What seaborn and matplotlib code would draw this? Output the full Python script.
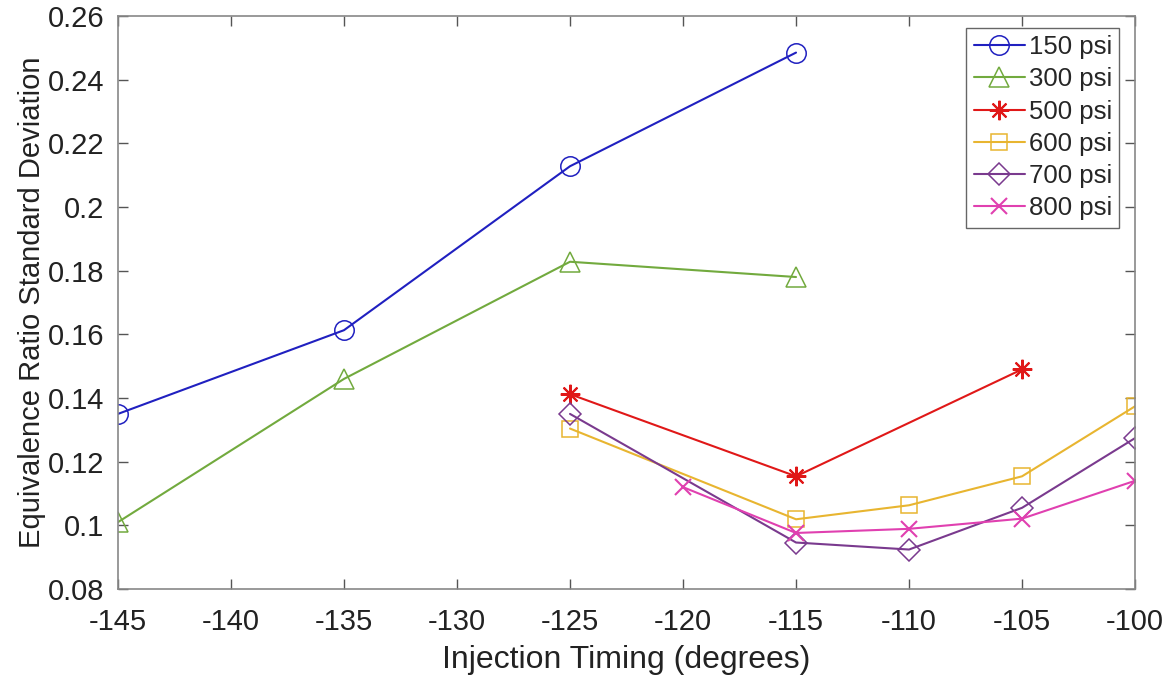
import matplotlib
matplotlib.use("Agg")
import matplotlib.pyplot as plt
import seaborn as sns
import pandas as pd

sns.set_style("white")
plt.rcParams['font.family'] = ['Liberation Sans', 'DejaVu Sans']

# Data
x_150 = [-145, -135, -125, -115]
y_150 = [0.135, 0.1613, 0.2128, 0.2485]
x_300 = [-145, -135, -125, -115]
y_300 = [0.101, 0.146, 0.1828, 0.178]
x_500 = [-125, -115, -105]
y_500 = [0.1412, 0.1154, 0.149]
x_600 = [-125, -115, -110, -105, -100]
y_600 = [0.1304, 0.1019, 0.1063, 0.1154, 0.1374]
x_700 = [-125, -115, -110, -105, -100]
y_700 = [0.135, 0.0946, 0.0924, 0.1055, 0.1274]
x_800 = [-120, -115, -110, -105, -100]
y_800 = [0.112, 0.0976, 0.0989, 0.1021, 0.114]

labels = ['150 psi', '300 psi', '500 psi', '600 psi', '700 psi', '800 psi']
xticks = [-145, -140, -135, -130, -125, -120, -115, -110, -105, -100]
yticks = [0.08, 0.1, 0.12, 0.14, 0.16, 0.18, 0.2, 0.22, 0.24, 0.26]
ytick_labels = ['0.08', '0.1', '0.12', '0.14', '0.16', '0.18', '0.2', '0.22', '0.24', '0.26']

series = [
    (x_150, y_150, labels[0], '#2020c0', 'o', 14, 1.1),
    (x_300, y_300, labels[1], '#72aa3e', '^', 15, 1.1),
    (x_500, y_500, labels[2], '#e01818', (8, 2, 0), 14, 1.5),
    (x_600, y_600, labels[3], '#e8b530', 's', 12, 1.1),
    (x_700, y_700, labels[4], '#7a3a8e', 'D', 11, 1.1),
    (x_800, y_800, labels[5], '#e040b0', 'x', 11, 1.5),
]

fig = plt.figure(figsize=(11.75, 6.86), dpi=100)
ax = fig.add_axes([0.1004, 0.1414, 0.8656, 0.8353])

for xs, ys, lab, col, mk, ms, mew in series:
    df = pd.DataFrame({'x': xs, 'y': ys})
    sns.lineplot(data=df, x='x', y='y', ax=ax, color=col, marker=mk,
                 markersize=ms, markerfacecolor='none', markeredgecolor=col,
                 markeredgewidth=mew, linewidth=1.5, label=lab)

ax.set_xlim(-145, -100)
ax.set_ylim(0.08, 0.26)
ax.set_xticks(xticks)
ax.set_xticklabels([str(t) for t in xticks])
ax.set_yticks(yticks)
ax.set_yticklabels(ytick_labels)
ax.tick_params(direction='in', length=7, width=1, color='#555555',
               labelsize=21, labelcolor='#222222', top=True, right=True,
               bottom=True, left=True)
ax.tick_params(axis='x', pad=14)
ax.tick_params(axis='y', pad=10)
for s in ax.spines.values():
    s.set_color('#888888')
    s.set_linewidth(1.2)
    s.set_visible(True)

ax.set_xlabel('Injection Timing (degrees)', fontsize=23, color='#222222', labelpad=6)
ax.set_ylabel('Equivalence Ratio Standard Deviation', fontsize=21, color='#222222', labelpad=1)

leg = ax.legend(loc='upper right', bbox_to_anchor=(0.9845, 0.979), fontsize=18.5,
                frameon=True, fancybox=False, framealpha=1, edgecolor='#666666',
                handlelength=2.0, handletextpad=0.15, borderpad=0.28,
                labelspacing=0.32, borderaxespad=0.0)
leg.get_frame().set_linewidth(1.0)

fig.savefig('out.png', dpi=100)
